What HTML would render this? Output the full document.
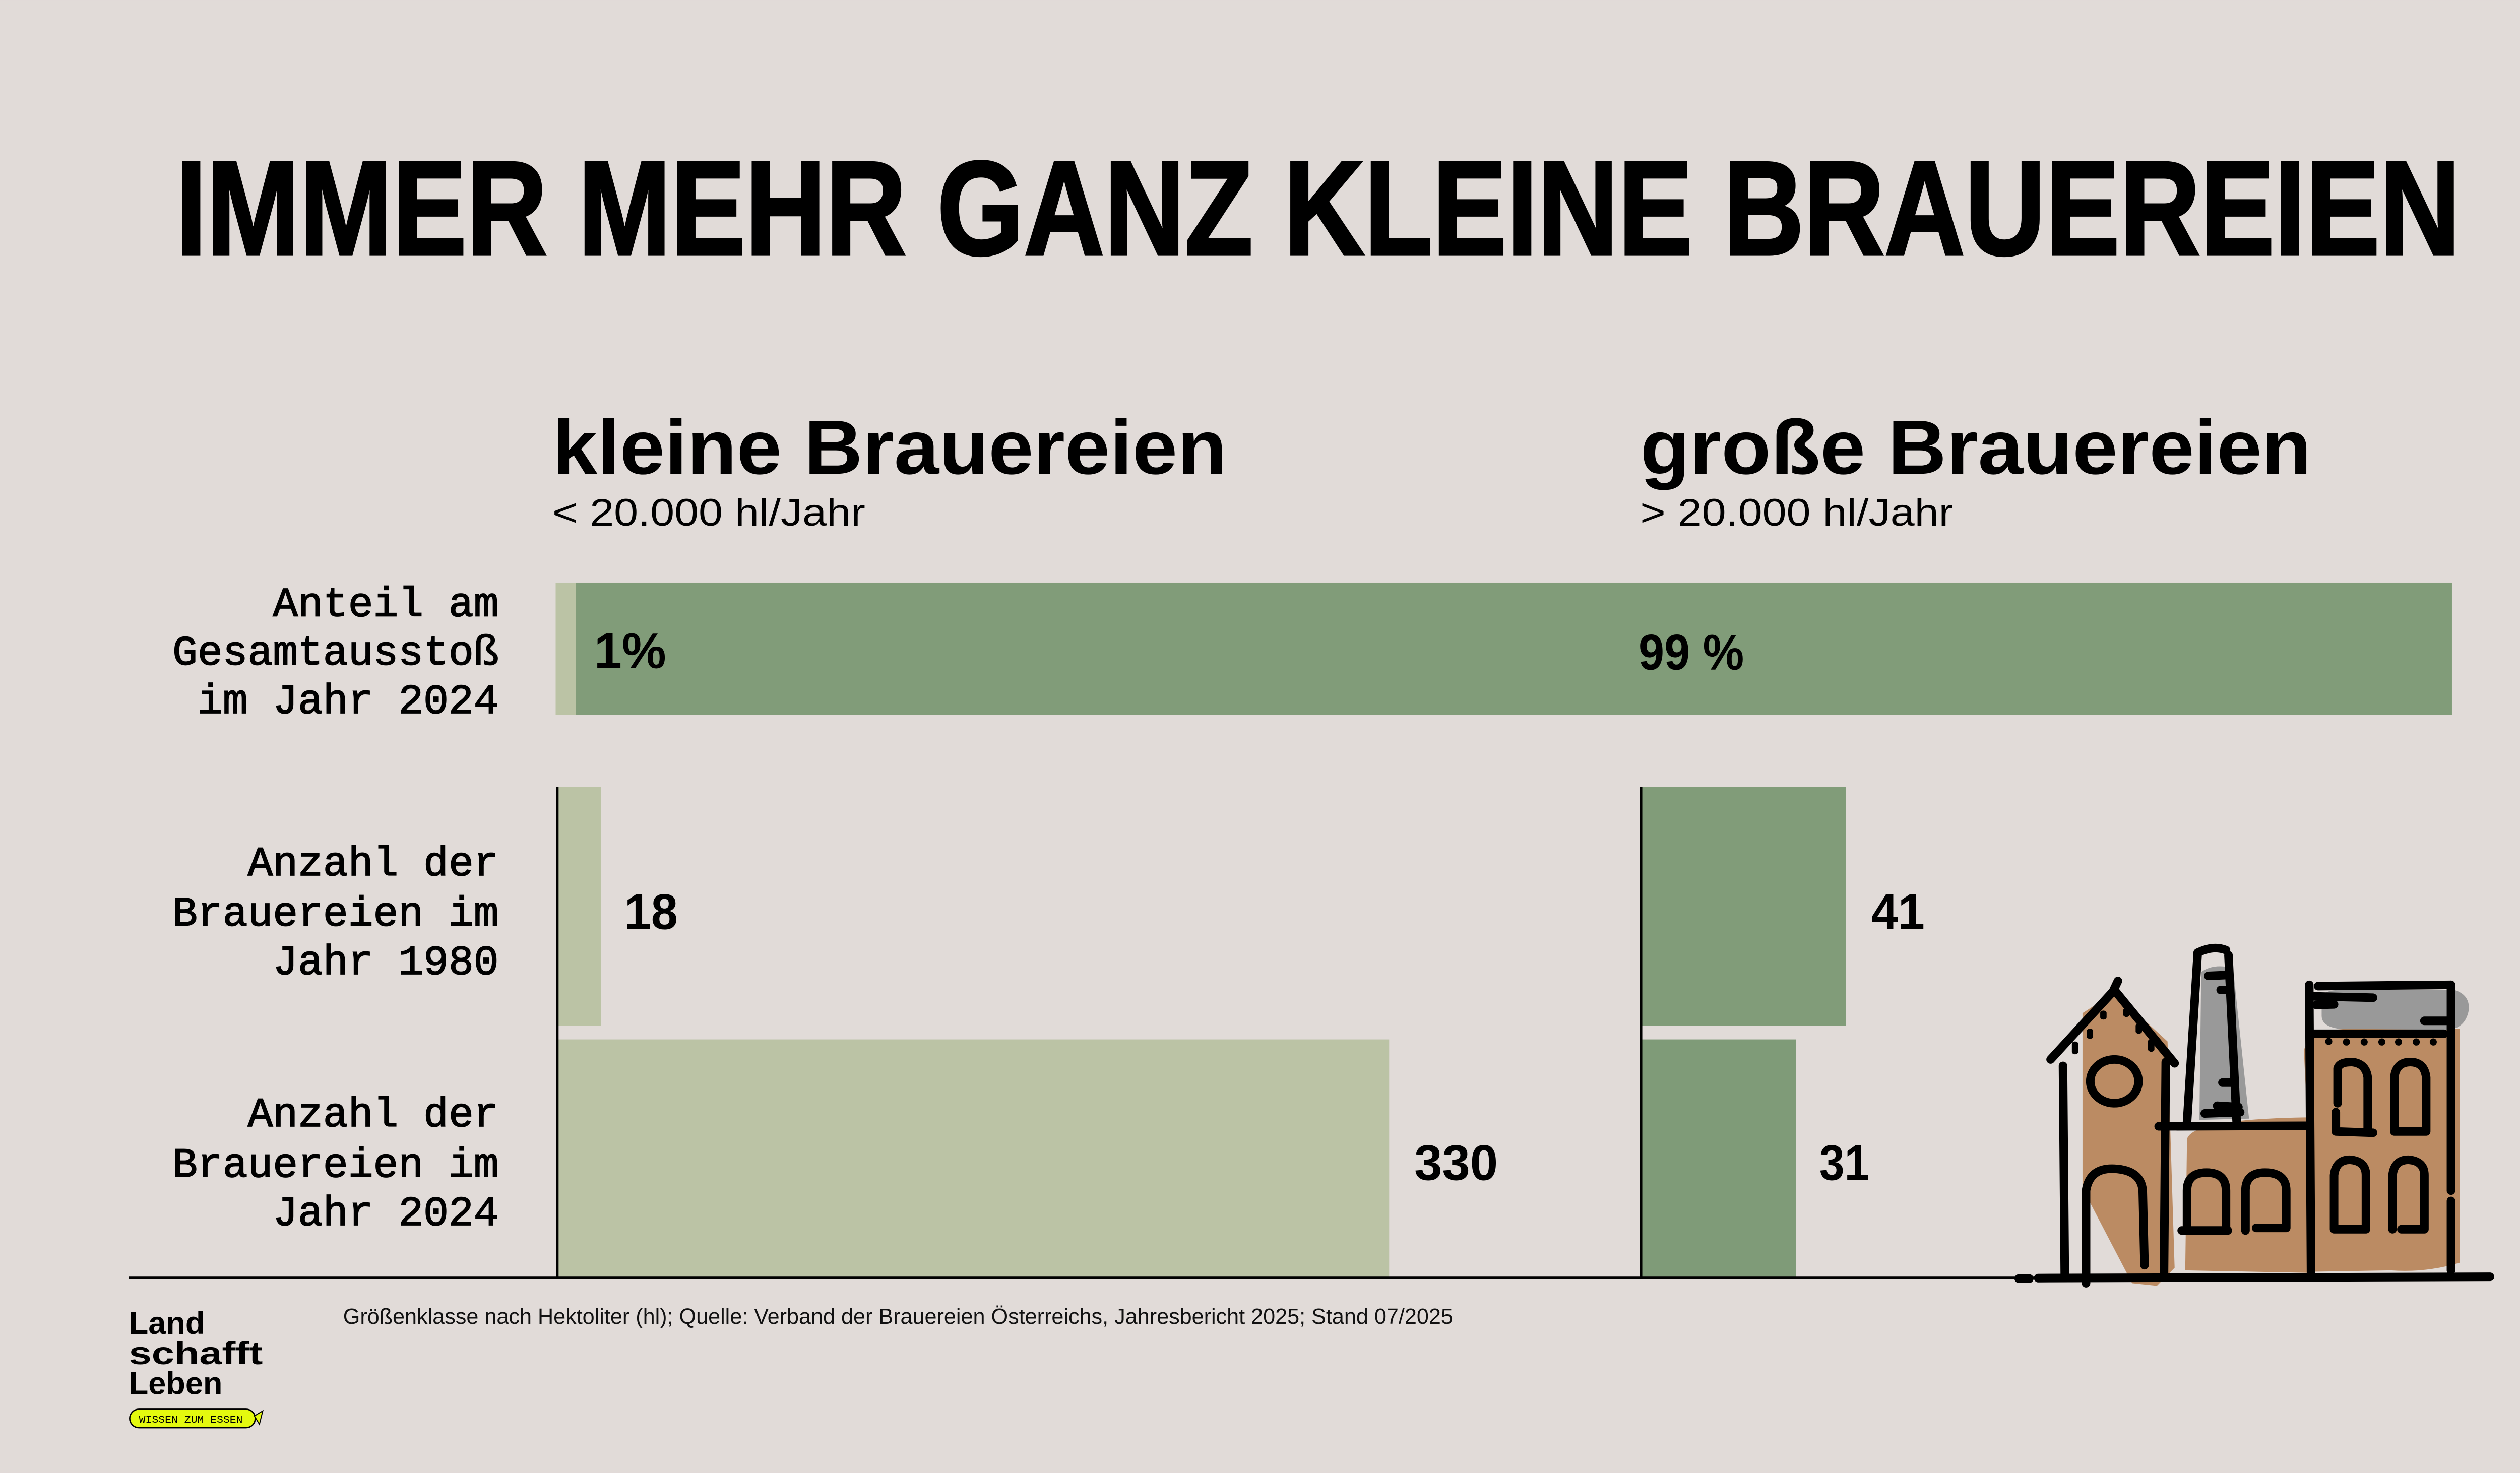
<!DOCTYPE html>
<html><head><meta charset="utf-8"><style>
html,body{margin:0;padding:0;background:#e1dbd8;}
svg{display:block}
</style></head><body>
<svg width="5207" height="2923" viewBox="0 0 1568 880" xmlns="http://www.w3.org/2000/svg">
<rect width="1568" height="880" fill="#e1dbd8"/>
<g font-family="Liberation Sans, sans-serif" fill="#000">
<text x="105" y="152" font-size="80" font-weight="bold" textLength="1365" lengthAdjust="spacingAndGlyphs" stroke="#000" stroke-width="1.5">IMMER MEHR GANZ KLEINE BRAUEREIEN</text>
<text x="330" y="283" font-size="46" font-weight="bold" textLength="403" lengthAdjust="spacingAndGlyphs">kleine Brauereien</text>
<text x="330" y="314" font-size="23" textLength="187" lengthAdjust="spacingAndGlyphs">&lt; 20.000 hl/Jahr</text>
<text x="980" y="283" font-size="46" font-weight="bold" textLength="401" lengthAdjust="spacingAndGlyphs">große Brauereien</text>
<text x="980" y="314" font-size="23" textLength="187" lengthAdjust="spacingAndGlyphs">&gt; 20.000 hl/Jahr</text>
</g>
<rect x="332" y="348" width="12" height="79" fill="#bbc3a5"/>
<rect x="344" y="348" width="1121" height="79" fill="#819c79"/>
<rect x="333" y="470" width="26" height="143" fill="#bbc3a5"/>
<rect x="981" y="470" width="122" height="143" fill="#819c79"/>
<rect x="333" y="621" width="497" height="142" fill="#bbc3a5"/>
<rect x="981" y="621" width="92" height="142" fill="#7f9b78"/>
<line x1="333" y1="470" x2="333" y2="763" stroke="#000" stroke-width="1.5"/>
<line x1="980.5" y1="470" x2="980.5" y2="763" stroke="#000" stroke-width="1.5"/>
<line x1="77" y1="763.5" x2="1490" y2="763.5" stroke="#000" stroke-width="1.5"/>
<g font-family="Liberation Sans, sans-serif" font-weight="bold" font-size="30" fill="#000">
<text x="355" y="399" textLength="43" lengthAdjust="spacingAndGlyphs">1%</text>
<text x="979" y="400" textLength="63" lengthAdjust="spacingAndGlyphs">99 %</text>
<text x="373" y="555" textLength="32" lengthAdjust="spacingAndGlyphs">18</text>
<text x="1118" y="555" textLength="32" lengthAdjust="spacingAndGlyphs">41</text>
<text x="845" y="705" textLength="50" lengthAdjust="spacingAndGlyphs">330</text>
<text x="1087" y="705" textLength="30" lengthAdjust="spacingAndGlyphs">31</text>
</g>
<g font-family="Liberation Mono, monospace" font-size="25" fill="#000" text-anchor="end" stroke="#000" stroke-width="0.5">
<text x="298" y="368">Anteil am</text>
<text x="298" y="397">Gesamtausstoß</text>
<text x="298" y="426">im Jahr 2024</text>
<text x="298" y="523">Anzahl der</text>
<text x="298" y="553">Brauereien im</text>
<text x="298" y="582">Jahr 1980</text>
<text x="298" y="673">Anzahl der</text>
<text x="298" y="703">Brauereien im</text>
<text x="298" y="732">Jahr 2024</text>
</g>
<g font-family="Liberation Sans, sans-serif" font-weight="bold" fill="#000">
<text x="77" y="797" font-size="19">Land</text>
<text x="77" y="815" font-size="19" textLength="80" lengthAdjust="spacingAndGlyphs">schafft</text>
<text x="77" y="833" font-size="19">Leben</text>
</g>
<rect x="77.5" y="842" width="75" height="11" rx="5.5" fill="#e4f90f" stroke="#000" stroke-width="0.8"/>
<path d="M152,846 L157,843 L155,851 Z" fill="#e4f90f" stroke="#000" stroke-width="0.6"/>
<text x="83" y="850" font-family="Liberation Mono, monospace" font-size="6" textLength="62" lengthAdjust="spacingAndGlyphs">WISSEN ZUM ESSEN</text>
<text x="205" y="791" font-family="Liberation Sans, sans-serif" font-size="13" fill="#111">Größenklasse nach Hektoliter (hl); Quelle: Verband der Brauereien Österreichs, Jahresbericht 2025; Stand 07/2025</text>
<g transform="translate(1174.4,542.3) scale(0.2117,0.1537)" stroke-linecap="round" stroke-linejoin="round">
<path d="M330,410 L420,330 L570,520 L590,1400 L540,1470 L470,1460 L330,1090 Z" fill="#bb8b63"/>
<path d="M625,900 Q640,820 980,815 L985,1420 L620,1410 Z" fill="#bb8b63"/>
<path d="M955,560 Q960,470 1100,470 L1395,470 L1395,1380 Q1300,1420 1200,1410 L985,1415 Z" fill="#bb8b63"/>
<path d="M665,250 Q700,215 755,235 L800,820 L660,825 Z" fill="#999"/>
<path d="M1005,350 Q1010,320 1060,320 L1380,320 Q1425,340 1420,400 Q1410,470 1360,475 L1050,470 Q1005,460 1005,420 Z" fill="#999"/>
<g fill="none" stroke="#000" stroke-width="17">
<path vector-effect="non-scaling-stroke" d="M275,615 L280,1425"/>
<path vector-effect="non-scaling-stroke" d="M240,590 L420,320 L590,605"/>
<path vector-effect="non-scaling-stroke" d="M430,285 L418,320"/>
<path vector-effect="non-scaling-stroke" d="M565,600 L560,1430"/>
<ellipse vector-effect="non-scaling-stroke" cx="420" cy="675" rx="68" ry="85"/>
<path vector-effect="non-scaling-stroke" d="M340,1460 L340,1100 Q350,1010 420,1015 Q495,1020 500,1100 L505,1390"/>
<path vector-effect="non-scaling-stroke" d="M625,835 L655,180"/>
<path vector-effect="non-scaling-stroke" d="M742,185 L765,830"/>
<path vector-effect="non-scaling-stroke" d="M655,175 Q700,145 735,165"/>
<path vector-effect="non-scaling-stroke" d="M685,265 L735,262 M720,320 L735,320 M725,680 L760,680 M710,770 L770,775 M675,800 L775,795"/>
<path vector-effect="non-scaling-stroke" d="M545,850 L960,848"/>
<path vector-effect="non-scaling-stroke" d="M625,1255 L625,1100 Q625,1030 680,1030 Q735,1030 735,1100 L735,1255 Z M610,1255 L740,1255"/>
<path vector-effect="non-scaling-stroke" d="M790,1255 L790,1100 Q790,1030 845,1030 Q905,1030 905,1100 L905,1245 L820,1245"/>
<path vector-effect="non-scaling-stroke" d="M970,300 L975,1420"/>
<path vector-effect="non-scaling-stroke" d="M1370,300 L1370,1100 M1370,1140 L1370,1410"/>
<path vector-effect="non-scaling-stroke" d="M995,305 L1370,300 M985,345 L1150,350 M990,378 L1040,376 M1295,440 L1365,440"/>
<path vector-effect="non-scaling-stroke" d="M985,490 L1350,490"/>
<path vector-effect="non-scaling-stroke" d="M1050,760 L1050,625 Q1055,600 1090,600 Q1130,605 1135,660 L1135,870 M1045,795 L1045,870 L1150,875"/>
<path vector-effect="non-scaling-stroke" d="M1210,870 L1210,660 Q1215,600 1255,600 Q1295,600 1300,660 L1300,870 Z"/>
<path vector-effect="non-scaling-stroke" d="M1040,1250 L1040,1040 Q1045,980 1085,980 Q1130,985 1130,1040 L1130,1250 Z"/>
<path vector-effect="non-scaling-stroke" d="M1205,1250 L1205,1040 Q1210,980 1250,980 Q1295,985 1295,1040 L1295,1250 L1230,1250"/>
<path vector-effect="non-scaling-stroke" d="M150,1442 L180,1442 M205,1440 L1480,1435"/>
</g>
<g fill="#000">
<ellipse cx="1025" cy="520" rx="10" ry="14"/><ellipse cx="1075" cy="522" rx="10" ry="14"/><ellipse cx="1125" cy="522" rx="10" ry="14"/><ellipse cx="1175" cy="522" rx="10" ry="14"/><ellipse cx="1222" cy="522" rx="10" ry="14"/><ellipse cx="1272" cy="522" rx="10" ry="14"/><ellipse cx="1320" cy="522" rx="10" ry="14"/>
<rect x="300" y="520" width="18" height="50" rx="9"/><rect x="342" y="470" width="18" height="40" rx="9"/><rect x="380" y="400" width="18" height="35" rx="9"/><rect x="445" y="390" width="18" height="35" rx="9"/><rect x="480" y="450" width="18" height="40" rx="9"/><rect x="515" y="510" width="18" height="50" rx="9"/>
</g>
</g>
</svg>
</body></html>
